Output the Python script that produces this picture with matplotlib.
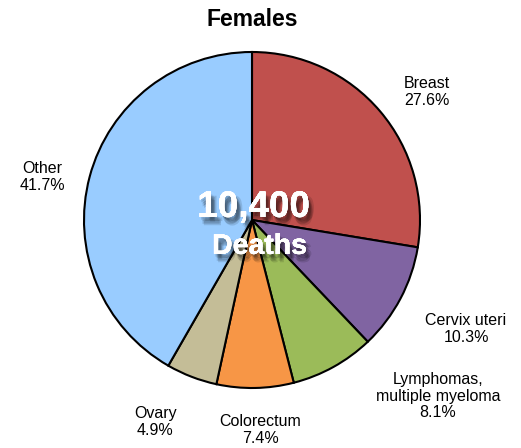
import matplotlib
matplotlib.use("Agg")
import matplotlib.pyplot as plt
import matplotlib.patheffects as pe

plt.rcParams["font.family"] = ["Liberation Sans", "DejaVu Sans"]

labels = ["Breast", "Cervix uteri", "Lymphomas,\nmultiple myeloma", "Colorectum", "Ovary", "Other"]
shares = [27.6, 10.3, 8.1, 7.4, 4.9, 41.7]
colors = ["#C0504D", "#8064A2", "#9BBB59", "#F79646", "#C4BD97", "#99CCFF"]
total_deaths = 10400

# label placement (data coords, pie radius = 1) and alignment
label_pos = [(0.905, 0.762, "left"), (1.274, -0.649, "center"), (1.107, -1.048, "center"),
             (0.048, -1.25, "center"), (-0.577, -1.202, "center"), (-1.25, 0.256, "center")]

W, H = 521, 448
fig = plt.figure(figsize=(W / 100, H / 100), dpi=100)
cx, cy, r = 252, 220, 168
ax = fig.add_axes([(cx - r) / W, (H - cy - r) / H, 2 * r / W, 2 * r / H])

ax.pie(shares, colors=colors, startangle=90, counterclock=False, radius=1,
       wedgeprops=dict(edgecolor="black", linewidth=1.5))
ax.set_xlim(-1, 1)
ax.set_ylim(-1, 1)
ax.set_aspect("equal")
ax.axis("off")

for lab, val, (x, y, ha) in zip(labels, shares, label_pos):
    ax.text(x, y, f"{lab}\n{val}%", ha=ha, va="center", fontsize=11.5,
            linespacing=1.1, clip_on=False)

# soft drop shadow built from a few faint offset copies
shadow = [pe.withSimplePatchShadow(offset=(dx, dy), shadow_rgbFace="black", alpha=0.12)
          for dx, dy in [(1, -2), (2, -3), (3, -4), (2, -5), (4, -3), (3, -6)]]
shadow.append(pe.Normal())
ax.text(0.01, 0.075, f"{total_deaths:,}", ha="center", va="center", fontsize=26.5,
        fontweight="bold", color="white", path_effects=shadow)
ax.text(0.045, -0.16, "Deaths", ha="center", va="center", fontsize=20.5,
        fontweight="bold", color="white", path_effects=shadow)

fig.text(cx / W, 1 - 20 / H, "Females", ha="center", va="center", fontsize=16.5, fontweight="bold")

fig.savefig("out.png", dpi=100)
